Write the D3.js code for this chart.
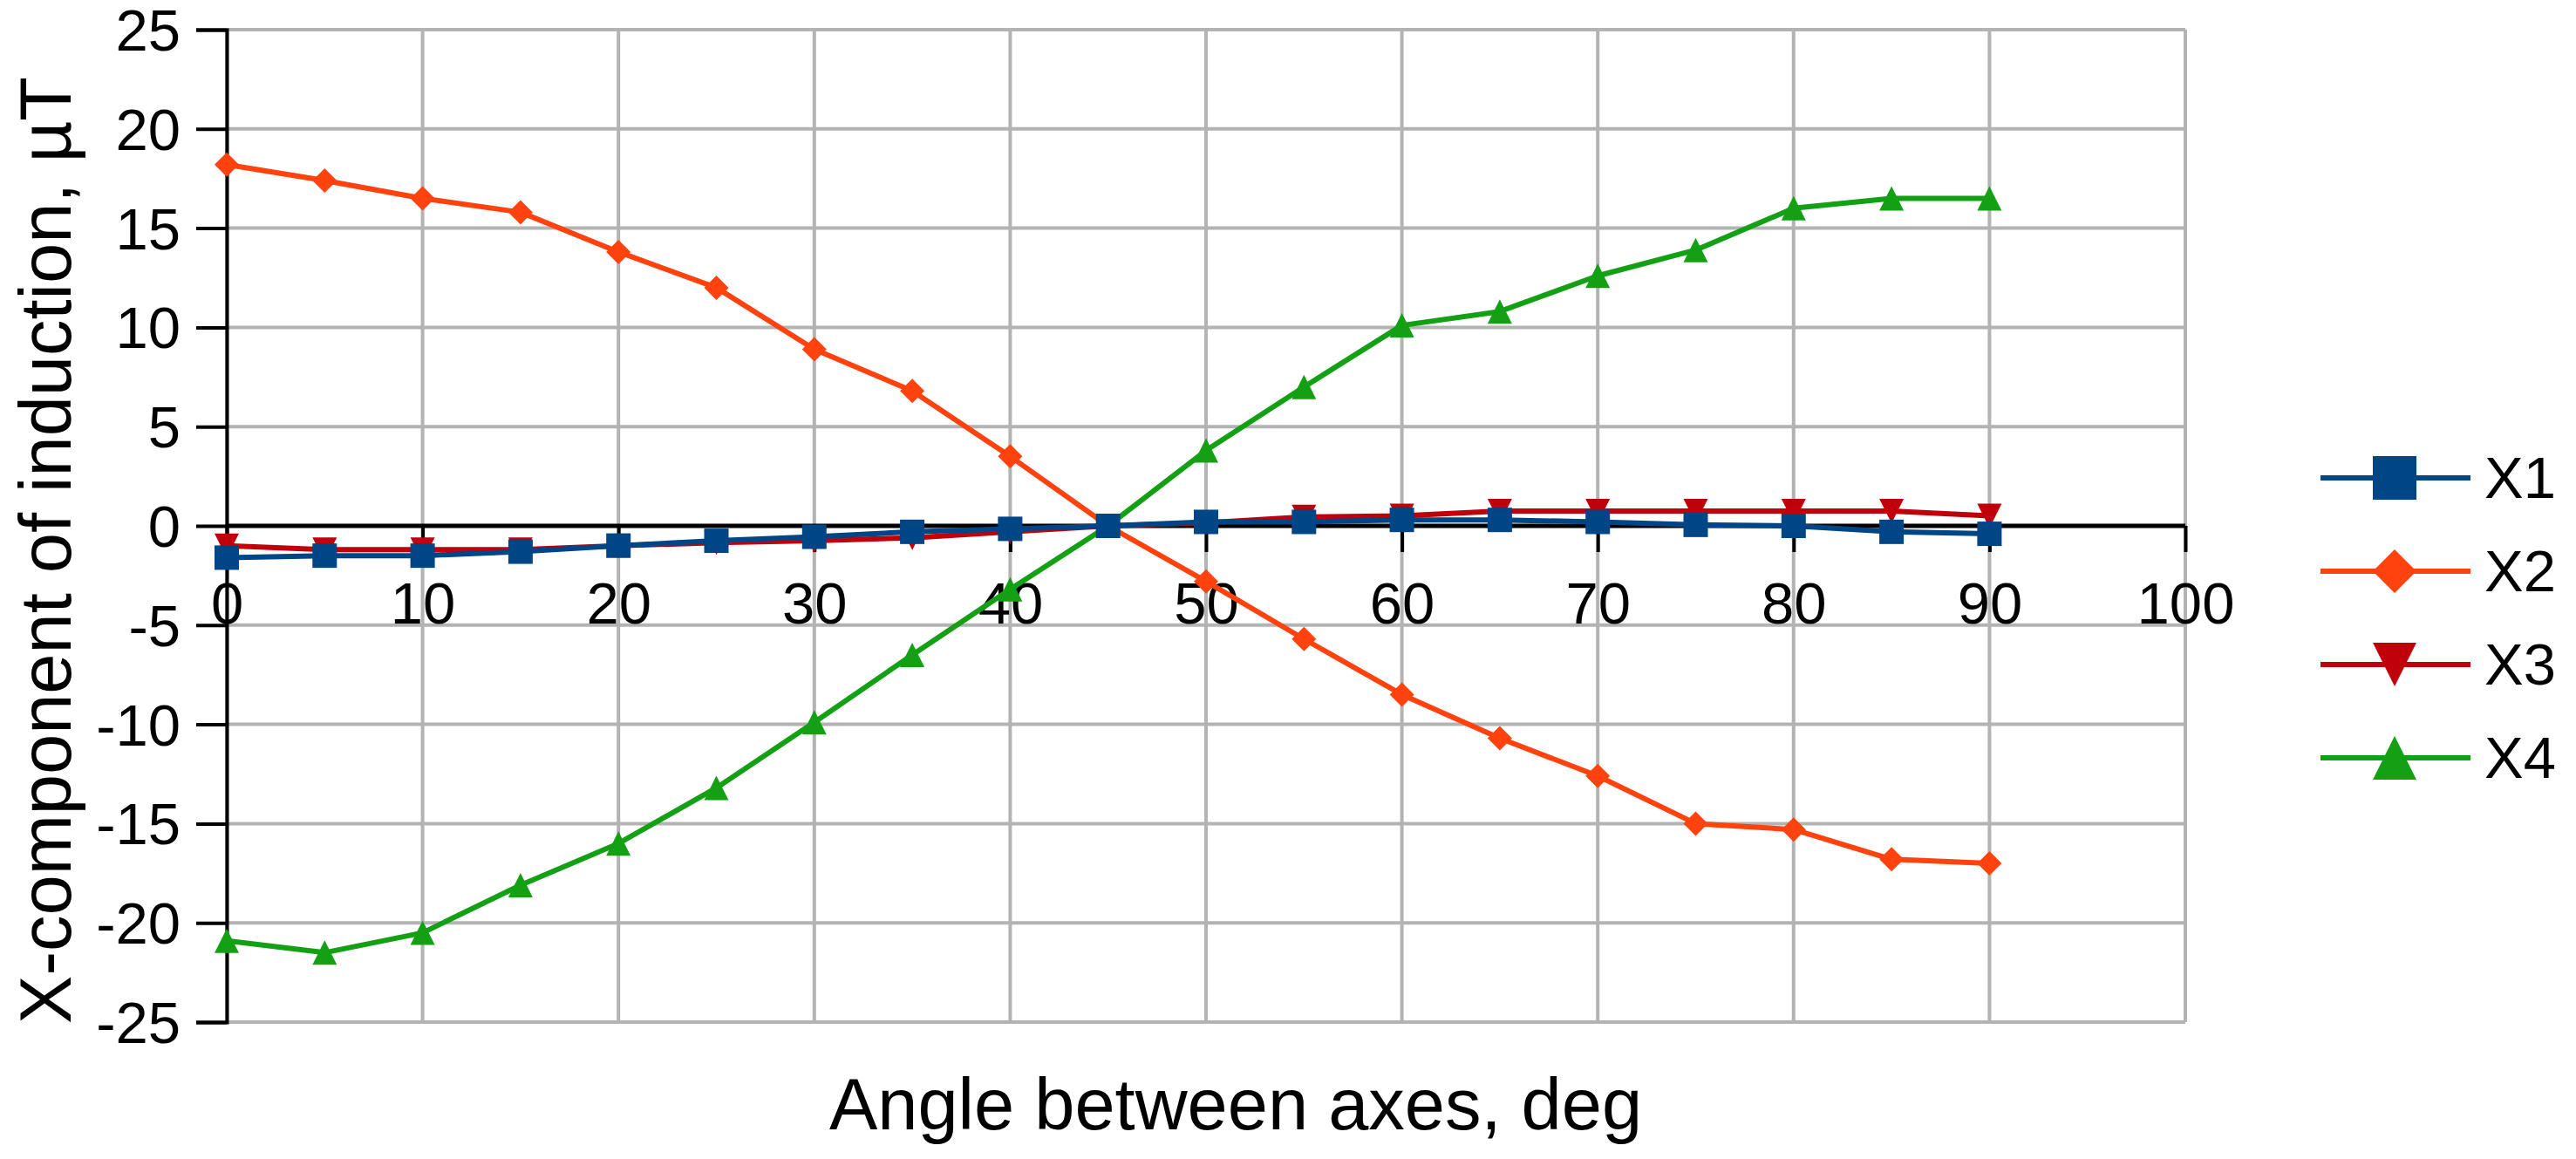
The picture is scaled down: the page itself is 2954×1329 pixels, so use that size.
<!DOCTYPE html>
<html><head><meta charset="utf-8">
<script src="https://cdn.jsdelivr.net/npm/d3@7"></script>
<style>
html,body{margin:0;padding:0;background:#fff;}
svg text{font-family:"Liberation Sans",Arial,sans-serif;fill:#000;}
</style></head>
<body>
<svg id="chart" width="2954" height="1329"></svg>
<script>
const angles = [0,5,10,15,20,25,30,35,40,45,50,55,60,65,70,75,80,85,90];
const x1 = [-1.6,-1.5,-1.5,-1.3,-1.0,-0.75,-0.55,-0.3,-0.15,0,0.2,0.2,0.3,0.3,0.2,0.05,0.0,-0.3,-0.4];
const x2 = [18.2,17.4,16.5,15.8,13.8,12.0,8.9,6.8,3.5,0,-2.8,-5.7,-8.5,-10.7,-12.6,-15.0,-15.3,-16.8,-17.0];
const x3 = [-1.0,-1.2,-1.2,-1.2,-1.0,-0.85,-0.75,-0.6,-0.3,0,0.15,0.45,0.5,0.75,0.75,0.75,0.75,0.75,0.5];
const x4 = [-20.9,-21.5,-20.5,-18.1,-16.0,-13.2,-9.9,-6.5,-3.2,0,3.8,7.0,10.1,10.8,12.6,13.9,16.0,16.5,16.5];
const seriesNames = ["X1","X2","X3","X4"];
const seriesColors = ["#004586","#ff420e","#c0000b","#14a014"];
const seriesShapes = ["square","diamond","triangleDown","triangleUp"];
const xTicks = [0,10,20,30,40,50,60,70,80,90,100];
const yTicks = [-25,-20,-15,-10,-5,0,5,10,15,20,25];

const series = [x1,x2,x3,x4].map((v,i)=>({name:seriesNames[i],color:seriesColors[i],shape:seriesShapes[i],values:v}));

const svg = d3.select("#chart");
const L=260,R=2506,T=34,B=1172;
const x = d3.scaleLinear().domain([0,100]).range([L,R]);
const y = d3.scaleLinear().domain([-25,25]).range([B,T]);
const fmt = d => String(d).replace("\u2212","-");

// grid
const g = svg.append("g");
g.selectAll(".hg").data(yTicks).join("line")
  .attr("x1",L).attr("x2",R).attr("y1",d=>y(d)).attr("y2",d=>y(d))
  .attr("stroke","#b3b3b3").attr("stroke-width",4);
g.selectAll(".vg").data(xTicks).join("line")
  .attr("x1",d=>x(d)).attr("x2",d=>x(d)).attr("y1",T).attr("y2",B)
  .attr("stroke","#b3b3b3").attr("stroke-width",4);

// y axis
const yAxis = d3.axisLeft(y).tickValues(yTicks).tickFormat(fmt).tickSize(35).tickPadding(18);
const ya = svg.append("g").attr("transform",`translate(${L},0)`).call(yAxis);
ya.select(".domain").attr("stroke","#000").attr("stroke-width",4);
ya.selectAll(".tick line").attr("stroke","#000").attr("stroke-width",4);
ya.selectAll(".tick text").attr("font-size",67).attr("font-family","Liberation Sans, Arial, sans-serif").attr("fill","#000").attr("dy","0.35em");

// x axis on zero line
const xAxis = d3.axisBottom(x).tickValues(xTicks).tickFormat(fmt).tickSize(30).tickPadding(0);
const xa = svg.append("g").attr("transform",`translate(0,${y(0)})`).call(xAxis);
xa.select(".domain").attr("stroke","#000").attr("stroke-width",5).attr("d",`M${L},0H${R}`);
xa.selectAll(".tick line").attr("stroke","#000").attr("stroke-width",4);
xa.selectAll(".tick text").attr("font-size",67).attr("font-family","Liberation Sans, Arial, sans-serif").attr("fill","#000")
  .attr("dy",null).attr("y",y(-5)-y(0)-2);

// symbols
function shapePath(shape, s){
  const h=s/2;
  if(shape==="square") return `M${-h},${-h}H${h}V${h}H${-h}Z`;
  if(shape==="diamond") return `M0,${-h}L${h},0L0,${h}L${-h},0Z`;
  if(shape==="triangleDown") return `M${-h},${-h}H${h}L0,${h}Z`;
  return `M0,${-h}L${h},${h}H${-h}Z`;
}

const line = d3.line().x((d,i)=>x(angles[i])).y(d=>y(d));
const order = [3,1,2,0];
order.forEach(k=>{
  const s = series[k];
  const sg = svg.append("g");
  sg.append("path").attr("d",line(s.values)).attr("fill","none").attr("stroke",s.color).attr("stroke-width",6).attr("stroke-linejoin","round");
  sg.selectAll("path.m").data(s.values).join("path").attr("class","m")
    .attr("transform",(d,i)=>`translate(${x(angles[i])},${y(d)})`)
    .attr("d",shapePath(s.shape,28)).attr("fill",s.color);
});

// legend
const lg = svg.append("g");
series.forEach((s,i)=>{
  const cy = 548 + i*107;
  lg.append("line").attr("x1",2661).attr("x2",2833).attr("y1",cy).attr("y2",cy).attr("stroke",s.color).attr("stroke-width",6);
  lg.append("path").attr("transform",`translate(2746,${cy})`).attr("d",shapePath(s.shape,50)).attr("fill",s.color);
  lg.append("text").attr("x",2849).attr("y",cy).attr("dy","0.35em").attr("font-size",67).text(s.name);
});

// titles
svg.append("text").attr("x",1417).attr("y",1295).attr("text-anchor","middle").attr("font-size",83).text("Angle between axes, deg");
svg.append("text").attr("transform","translate(81,631) rotate(-90)").attr("text-anchor","middle").attr("font-size",83).text("X-component of induction, µT");
</script>
</body></html>
